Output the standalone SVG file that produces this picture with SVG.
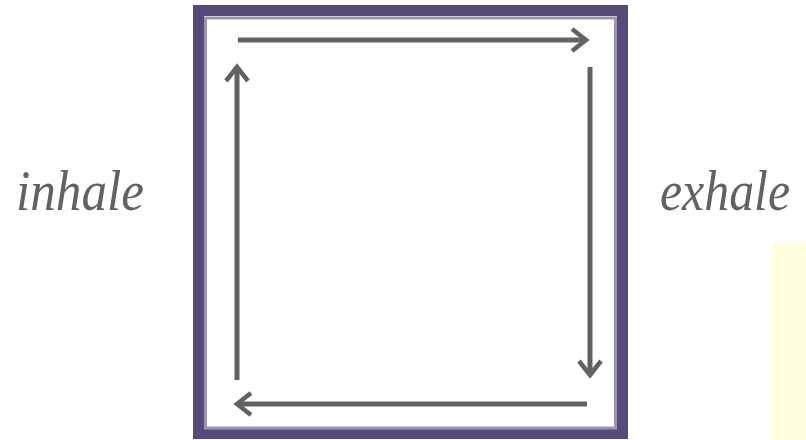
<svg xmlns="http://www.w3.org/2000/svg" width="806" height="440" viewBox="0 0 806 440">
  <style>
    .lbl { font-family: "Liberation Serif", "DejaVu Serif", serif; font-style: italic; font-size: 56px; fill: #626262; }
    .conn { stroke: #626262; stroke-width: 5; fill: none; }
  </style>
  <defs>
    <marker id="chev" markerUnits="userSpaceOnUse" markerWidth="30" markerHeight="30" viewBox="-20 -15 30 30" refX="0" refY="0" orient="auto" overflow="visible">
      <path d="M-14,-11 L0,0 L-14,11" fill="none" stroke="#626262" stroke-width="4.5" stroke-linejoin="miter"/>
    </marker>
  </defs>
  <rect x="0" y="0" width="806" height="440" fill="#ffffff"/>
  <g id="note">
    <rect x="772" y="243" width="34" height="197" fill="#ffffdd"/>
  </g>
  <g id="frame">
    <rect x="198.5" y="10.5" width="424" height="423" fill="#ffffff" stroke="#554a7a" stroke-width="11"/>
    <rect x="205.5" y="18" width="410" height="410" fill="none" stroke="#9d94b4" stroke-width="3"/>
  </g>
  <g id="inhale">
    <text class="lbl" x="16" y="210" textLength="128" lengthAdjust="spacingAndGlyphs">inhale</text>
  </g>
  <g id="exhale">
    <text class="lbl" x="660" y="210" textLength="130" lengthAdjust="spacingAndGlyphs">exhale</text>
  </g>
  <g id="connectors">
    <line class="conn" x1="238" y1="40" x2="586" y2="40" marker-end="url(#chev)"/>
    <line class="conn" x1="590" y1="67" x2="590" y2="375" marker-end="url(#chev)"/>
    <line class="conn" x1="587" y1="404" x2="237" y2="404" marker-end="url(#chev)"/>
    <line class="conn" x1="237" y1="380" x2="237" y2="67" marker-end="url(#chev)"/>
  </g>
</svg>
